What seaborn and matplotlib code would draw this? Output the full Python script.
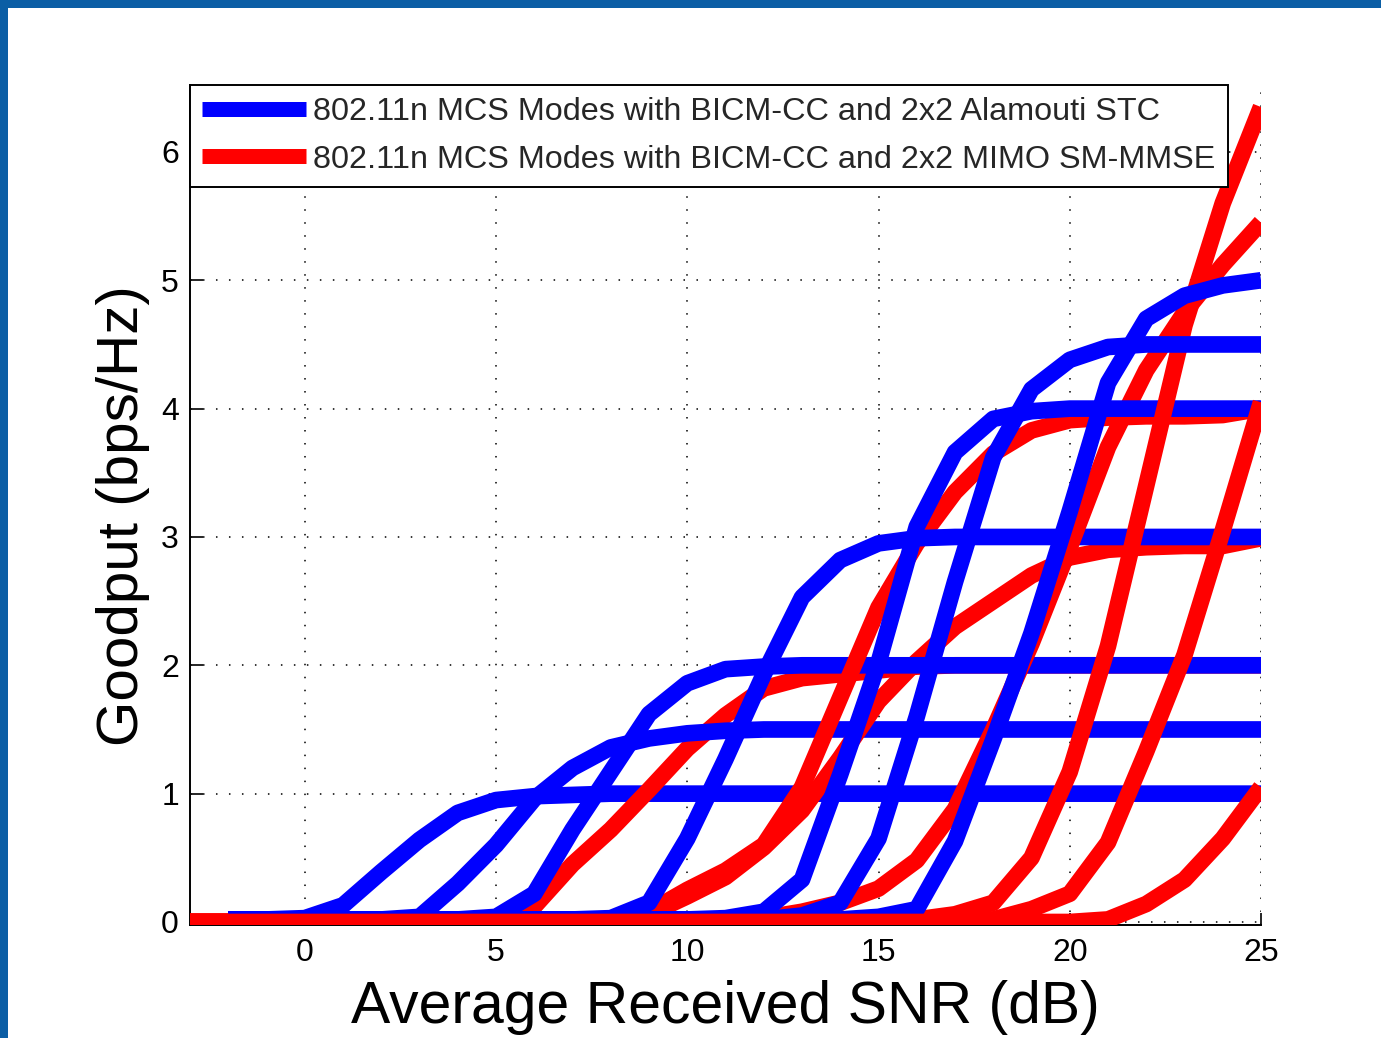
import matplotlib
matplotlib.use("Agg")
import matplotlib.pyplot as plt
from matplotlib.lines import Line2D
from matplotlib.patches import Rectangle
import seaborn as sns

# ---------------- data ----------------
SNR_STC = [-2, -1, 0, 1, 2, 3, 4, 5, 6, 7, 8, 9, 10, 11, 12, 13, 14, 15, 16,
           17, 18, 19, 20, 21, 22, 23, 24, 25]
SNR_SM = [-3, -2, -1, 0, 1, 2, 3, 4, 5, 6, 7, 8, 9, 10, 11, 12, 13, 14, 15,
          16, 17, 18, 19, 20, 21, 22, 23, 24, 25]

# 2x2 Alamouti STC (blue)
STC_QPSK_12 = [0.02, 0.02, 0.03, 0.13, 0.39, 0.64, 0.85, 0.95, 0.98, 0.99,
               1.0, 1.0, 1.0, 1.0, 1.0, 1.0, 1.0, 1.0, 1.0, 1.0, 1.0, 1.0,
               1.0, 1.0, 1.0, 1.0, 1.0, 1.0]
STC_QPSK_34 = [0.02, 0.02, 0.02, 0.02, 0.02, 0.04, 0.30, 0.60, 0.96, 1.20,
               1.36, 1.43, 1.47, 1.49, 1.5, 1.5, 1.5, 1.5, 1.5, 1.5, 1.5,
               1.5, 1.5, 1.5, 1.5, 1.5, 1.5, 1.5]
STC_16QAM_12 = [0.02, 0.02, 0.02, 0.02, 0.02, 0.02, 0.02, 0.04, 0.22, 0.72,
                1.17, 1.62, 1.86, 1.97, 1.99, 2.0, 2.0, 2.0, 2.0, 2.0, 2.0,
                2.0, 2.0, 2.0, 2.0, 2.0, 2.0, 2.0]
STC_16QAM_34 = [0.02, 0.02, 0.02, 0.02, 0.02, 0.02, 0.02, 0.02, 0.02, 0.02,
                0.03, 0.15, 0.65, 1.27, 1.93, 2.53, 2.82, 2.95, 2.99, 3.0,
                3.0, 3.0, 3.0, 3.0, 3.0, 3.0, 3.0, 3.0]
STC_64QAM_23 = [0.02, 0.02, 0.02, 0.02, 0.02, 0.02, 0.02, 0.02, 0.02, 0.02,
                0.02, 0.02, 0.02, 0.03, 0.08, 0.33, 1.15, 2.02, 3.08, 3.66,
                3.92, 3.98, 4.0, 4.0, 4.0, 4.0, 4.0, 4.0]
STC_64QAM_34 = [0.02, 0.02, 0.02, 0.02, 0.02, 0.02, 0.02, 0.02, 0.02, 0.02,
                0.02, 0.02, 0.02, 0.02, 0.02, 0.05, 0.15, 0.65, 1.60, 2.65,
                3.62, 4.15, 4.38, 4.48, 4.5, 4.5, 4.5, 4.5]
STC_64QAM_56 = [0.02, 0.02, 0.02, 0.02, 0.02, 0.02, 0.02, 0.02, 0.02, 0.02,
                0.02, 0.02, 0.02, 0.02, 0.02, 0.02, 0.02, 0.04, 0.10, 0.63,
                1.42, 2.25, 3.20, 4.20, 4.70, 4.88, 4.96, 5.0]

# 2x2 MIMO SM-MMSE (red)
SM_QPSK_12 = [0.0, 0.0, 0.0, 0.0, 0.0, 0.0, 0.0, 0.0, 0.01, 0.12, 0.45,
              0.72, 1.03, 1.35, 1.61, 1.82, 1.90, 1.93, 1.96, 1.99, 2.0, 2.0,
              2.0, 2.0, 2.0, 2.0, 2.0, 2.0, 2.0]
SM_QPSK_34 = [0.0, 0.0, 0.0, 0.0, 0.0, 0.0, 0.0, 0.0, 0.0, 0.0, 0.0, 0.0,
              0.06, 0.20, 0.35, 0.58, 0.87, 1.28, 1.72, 2.03, 2.30, 2.50,
              2.70, 2.84, 2.90, 2.92, 2.93, 2.93, 2.99]
SM_16QAM_12 = [0.0, 0.0, 0.0, 0.0, 0.0, 0.0, 0.0, 0.0, 0.0, 0.0, 0.0, 0.0,
               0.08, 0.25, 0.40, 0.60, 1.05, 1.75, 2.45, 2.95, 3.35, 3.65,
               3.83, 3.91, 3.93, 3.94, 3.94, 3.95, 4.0]
SM_16QAM_34 = [0.0, 0.0, 0.0, 0.0, 0.0, 0.0, 0.0, 0.0, 0.0, 0.0, 0.0, 0.0,
               0.0, 0.0, 0.0, 0.03, 0.08, 0.15, 0.26, 0.48, 0.88, 1.50, 2.17,
               2.92, 3.70, 4.30, 4.75, 5.12, 5.45]
SM_64QAM_23 = [0.0, 0.0, 0.0, 0.0, 0.0, 0.0, 0.0, 0.0, 0.0, 0.0, 0.0, 0.0,
               0.0, 0.0, 0.0, 0.0, 0.0, 0.0, 0.0, 0.02, 0.06, 0.15, 0.50,
               1.17, 2.15, 3.40, 4.65, 5.60, 6.35]
SM_64QAM_34 = [0.0, 0.0, 0.0, 0.0, 0.0, 0.0, 0.0, 0.0, 0.0, 0.0, 0.0, 0.0,
               0.0, 0.0, 0.0, 0.0, 0.0, 0.0, 0.0, 0.0, 0.0, 0.02, 0.10, 0.22,
               0.62, 1.33, 2.08, 3.05, 4.05]
SM_64QAM_56 = [0.0, 0.0, 0.0, 0.0, 0.0, 0.0, 0.0, 0.0, 0.0, 0.0, 0.0, 0.0,
               0.0, 0.0, 0.0, 0.0, 0.0, 0.0, 0.0, 0.0, 0.0, 0.0, 0.0, 0.0,
               0.02, 0.14, 0.33, 0.65, 1.05]

LEGEND_LABELS = ["802.11n MCS Modes with BICM-CC and 2x2 Alamouti STC",
                 "802.11n MCS Modes with BICM-CC and 2x2 MIMO SM-MMSE"]
X_TICKS = [0, 5, 10, 15, 20, 25]
Y_TICKS = [0, 1, 2, 3, 4, 5, 6]
X_LABEL = "Average Received SNR (dB)"
Y_LABEL = "Goodput (bps/Hz)"

STC_CURVES = [STC_QPSK_12, STC_QPSK_34, STC_16QAM_12, STC_16QAM_34,
              STC_64QAM_23, STC_64QAM_34, STC_64QAM_56]
SM_CURVES = [SM_QPSK_12, SM_QPSK_34, SM_16QAM_12, SM_16QAM_34,
             SM_64QAM_23, SM_64QAM_34, SM_64QAM_56]

BLUE = "#0000ff"
RED = "#ff0000"
FRAME_BLUE = "#0b5ea5"

# ---------------- styling ----------------
sns.set_theme(style="white")
plt.rcParams["font.family"] = ["Liberation Sans", "DejaVu Sans"]

W, H = 1381, 1038
fig = plt.figure(figsize=(W / 100, H / 100), dpi=100)
fig.patch.set_facecolor("white")
fig.patches.append(Rectangle((0, 1 - 8 / H), 1, 8 / H, transform=fig.transFigure,
                             facecolor=FRAME_BLUE, edgecolor="none", zorder=0))
fig.patches.append(Rectangle((0, 0), 8 / W, 1, transform=fig.transFigure,
                             facecolor=FRAME_BLUE, edgecolor="none", zorder=0))

ax = fig.add_axes([190 / W, 1 - 925.2 / H, 1071 / W, 840 / H])
ax.set_facecolor("white")

LW = 12
for stc, sm in zip(STC_CURVES, SM_CURVES):
    sns.lineplot(x=SNR_STC, y=stc, ax=ax, color=BLUE, linewidth=LW,
                 estimator=None, sort=False, solid_joinstyle="round",
                 solid_capstyle="butt")
    sns.lineplot(x=SNR_SM, y=sm, ax=ax, color=RED, linewidth=LW,
                 estimator=None, sort=False, solid_joinstyle="round",
                 solid_capstyle="butt")

ax.set_xlim(-3, 25)
ax.set_ylim(-0.025, 6.52)
ax.set_xticks(X_TICKS)
ax.set_yticks(Y_TICKS)
ax.set_xticklabels([str(t) for t in X_TICKS])
ax.set_yticklabels([str(t) for t in Y_TICKS])

ax.grid(True, color="black", linestyle=(0, (1, 7.5)), linewidth=1.1)
ax.set_axisbelow(True)

for side in ["top", "right"]:
    ax.spines[side].set_visible(False)
for side in ["left", "bottom"]:
    ax.spines[side].set_visible(True)
    ax.spines[side].set_color("black")
    ax.spines[side].set_linewidth(1.4)
    ax.spines[side].set_zorder(0.5)

ax.tick_params(axis="both", which="major", direction="in", length=9, width=1.2,
               colors="black", labelsize=23, bottom=True, left=True,
               top=False, right=False)
ax.tick_params(axis="x", pad=9)
ax.tick_params(axis="y", pad=8)

ax.set_xlabel(X_LABEL, fontsize=42.4, color="black")
ax.set_ylabel(Y_LABEL, fontsize=42, color="black")
ax.xaxis.set_label_coords(0.5, -0.065)
ax.yaxis.set_label_coords(-0.037, 0.488)

handles = [Line2D([], [], color=BLUE, lw=10.8, solid_capstyle="butt"),
           Line2D([], [], color=RED, lw=10.8, solid_capstyle="butt")]
leg = ax.legend(handles, LEGEND_LABELS, loc="upper left", bbox_to_anchor=(0, 1),
                borderaxespad=0, fontsize=23.3, handlelength=3.2,
                handletextpad=0.22, borderpad=0.38, labelspacing=0.53,
                frameon=True, fancybox=False, framealpha=1,
                edgecolor="black", facecolor="white")
leg.get_frame().set_linewidth(1.4)
leg.set_zorder(10)

fig.savefig("out.png", dpi=100, facecolor="white")
